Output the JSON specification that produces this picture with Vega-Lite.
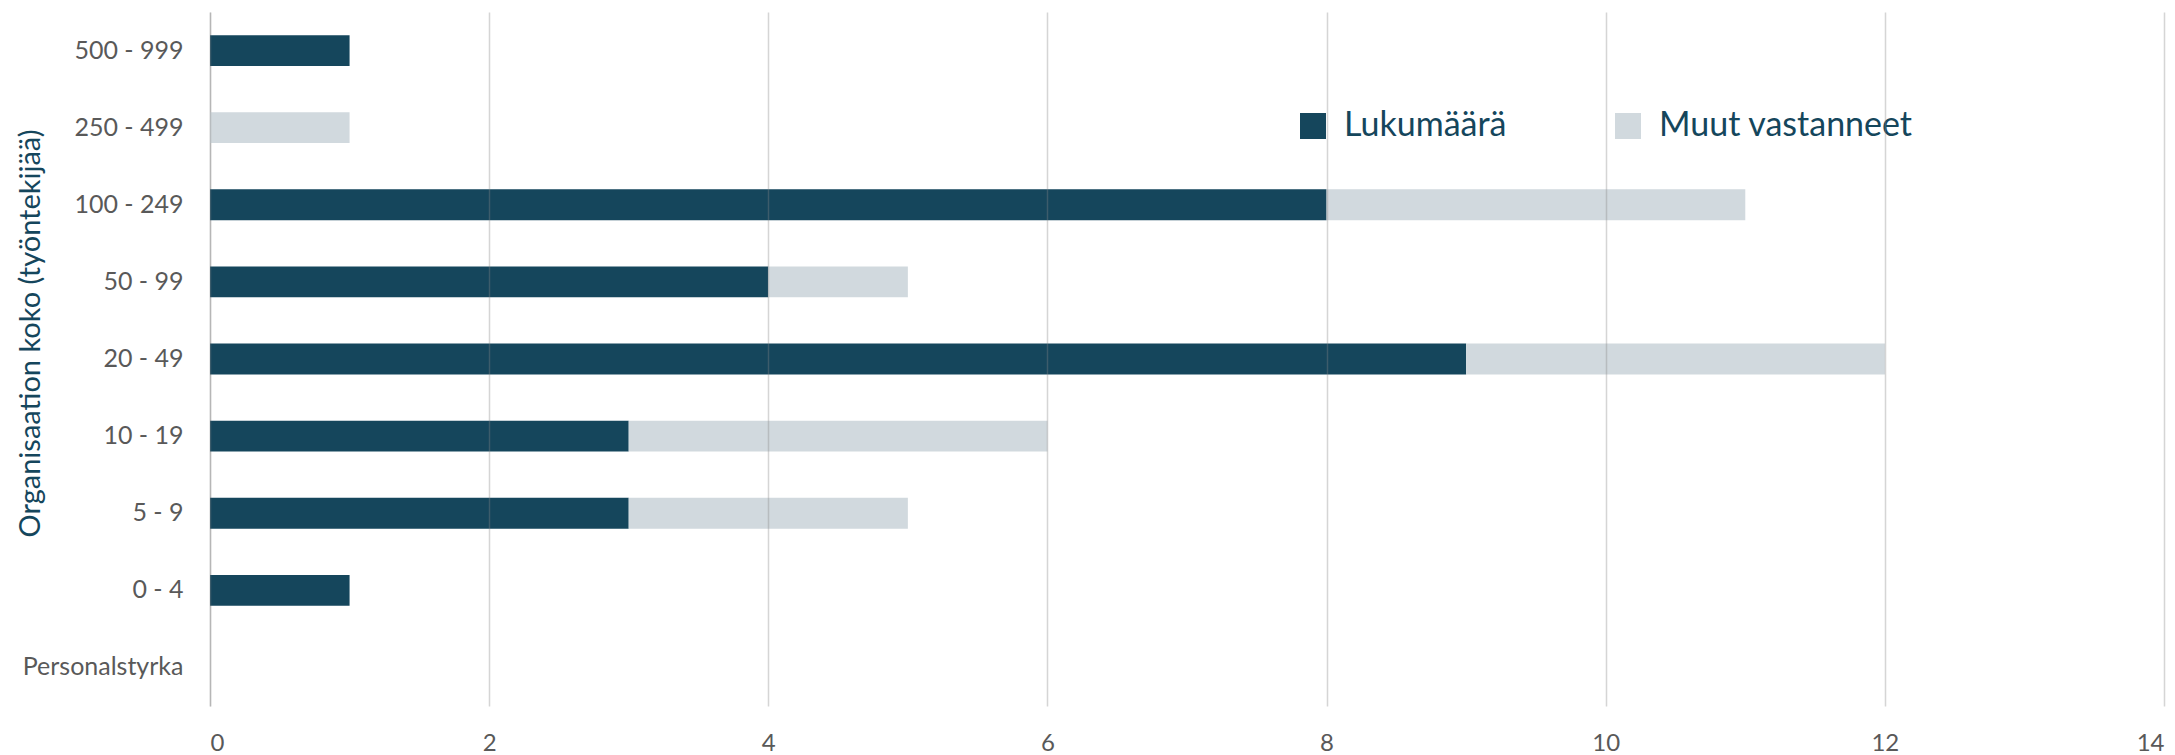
{
  "$schema": "https://vega.github.io/schema/vega-lite/v6.json",
  "autosize": {"type": "none"},
  "width": 1954,
  "height": 694,
  "padding": {"left": 210, "top": 12, "right": 11, "bottom": 49},
  "background": "white",
  "config": {
    "font": "Lato",
    "view": {"stroke": null}
  },
  "data": {
    "values": [
      {"size": "500 - 999", "series": "Lukumäärä", "value": 1},
      {"size": "500 - 999", "series": "Muut vastanneet", "value": 0},
      {"size": "250 - 499", "series": "Lukumäärä", "value": 0},
      {"size": "250 - 499", "series": "Muut vastanneet", "value": 1},
      {"size": "100 - 249", "series": "Lukumäärä", "value": 8},
      {"size": "100 - 249", "series": "Muut vastanneet", "value": 3},
      {"size": "50 - 99", "series": "Lukumäärä", "value": 4},
      {"size": "50 - 99", "series": "Muut vastanneet", "value": 1},
      {"size": "20 - 49", "series": "Lukumäärä", "value": 9},
      {"size": "20 - 49", "series": "Muut vastanneet", "value": 3},
      {"size": "10 - 19", "series": "Lukumäärä", "value": 3},
      {"size": "10 - 19", "series": "Muut vastanneet", "value": 3},
      {"size": "5 - 9", "series": "Lukumäärä", "value": 3},
      {"size": "5 - 9", "series": "Muut vastanneet", "value": 2},
      {"size": "0 - 4", "series": "Lukumäärä", "value": 1},
      {"size": "0 - 4", "series": "Muut vastanneet", "value": 0},
      {"size": "Personalstyrka", "series": "Lukumäärä", "value": 0},
      {"size": "Personalstyrka", "series": "Muut vastanneet", "value": 0}
    ]
  },
  "mark": {"type": "bar"},
  "encoding": {
    "y": {
      "field": "size",
      "type": "nominal",
      "sort": ["500 - 999", "250 - 499", "100 - 249", "50 - 99", "20 - 49", "10 - 19", "5 - 9", "0 - 4", "Personalstyrka"],
      "scale": {"paddingInner": 0.6, "paddingOuter": 0.3},
      "axis": {
        "title": "Organisaation koko (työntekijää)",
        "titleFont": "Lato",
        "titleFontSize": 29,
        "titleFontWeight": "normal",
        "titleColor": "#15465c",
        "titleX": -180,
        "titleY": 321,
        "titleAngle": -90,
        "titleBaseline": "middle",
        "titleAlign": "center",
        "labelFontSize": 25,
        "labelColor": "#595959",
        "labelPadding": 27,
        "ticks": false,
        "domain": true,
        "domainColor": "#d0d0d0",
        "domainWidth": 1.5,
        "grid": false
      }
    },
    "x": {
      "field": "value",
      "type": "quantitative",
      "stack": "zero",
      "scale": {"domain": [0, 14], "nice": false},
      "axis": {
        "title": null,
        "values": [0, 2, 4, 6, 8, 10, 12, 14],
        "format": "d",
        "labelFontSize": 24,
        "labelColor": "#595959",
        "labelPadding": 25,
        "labelBaseline": "top",
        "ticks": false,
        "domain": false,
        "grid": true,
        "gridColor": "#888888",
        "gridOpacity": 0.35,
        "gridWidth": 1.5,
        "zindex": 1
      }
    },
    "color": {
      "field": "series",
      "type": "nominal",
      "scale": {"domain": ["Lukumäärä", "Muut vastanneet"], "range": ["#15465c", "#d1d9de"]},
      "legend": {
        "title": null,
        "orient": "none",
        "legendX": 1086,
        "legendY": 97,
        "direction": "horizontal",
        "symbolType": "square",
        "symbolSize": 676,
        "symbolStrokeWidth": 0,
        "labelFontSize": 34,
        "labelColor": "#15465c",
        "labelOffset": 14,
        "columnPadding": 104,
        "labelLimit": 500
      }
    }
  }
}
